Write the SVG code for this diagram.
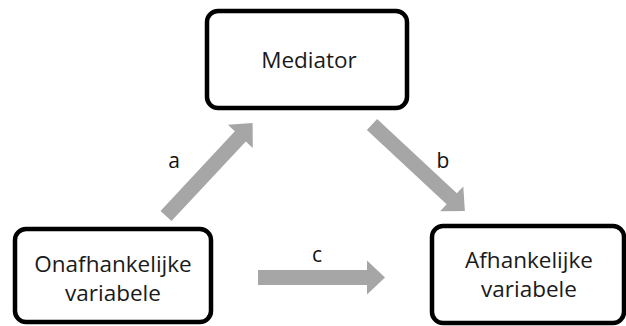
<svg xmlns="http://www.w3.org/2000/svg" width="626" height="326" viewBox="0 0 626 326">
  <defs>
    <style>
      .box { fill: #ffffff; stroke: #000000; stroke-width: 4.5; }
      .label { font-family: "Open Sans", "Noto Sans", "DejaVu Sans", sans-serif; font-size: 22.5px; fill: #1a1a1a; text-anchor: middle; }
      .path-label { font-family: "Open Sans", "Noto Sans", "DejaVu Sans", sans-serif; font-size: 21px; fill: #111111; text-anchor: middle; }
      .arrow { fill: #a6a6a6; }
    </style>
    <!-- block arrow, tail at origin, pointing along +x -->
    <path id="block-arrow" class="arrow" d="M0,-7.5 H109 V-17 L127,0 L109,17 V7.5 H0 Z"/>
  </defs>

  <rect width="626" height="326" fill="#ffffff"/>

  <g id="connectors">
    <g id="path-a">
      <use href="#block-arrow" transform="translate(166,216) rotate(-47)"/>
      <text class="path-label" x="174" y="168">a</text>
    </g>
    <g id="path-b">
      <use href="#block-arrow" transform="translate(372,124.5) rotate(43)"/>
      <text class="path-label" x="443" y="168">b</text>
    </g>
    <g id="path-c">
      <use href="#block-arrow" transform="translate(258,277.5)"/>
      <text class="path-label" x="317" y="262">c</text>
    </g>
  </g>

  <g id="mediator">
    <rect class="box" x="207" y="11" width="200" height="97" rx="11"/>
    <text class="label" x="309" y="68">Mediator</text>
  </g>

  <g id="independent">
    <rect class="box" x="15" y="229" width="196" height="93" rx="11"/>
    <text class="label" x="113" y="272">Onafhankelijke</text>
    <text class="label" x="113" y="301">variabele</text>
  </g>

  <g id="dependent">
    <rect class="box" x="432" y="226" width="192" height="97" rx="11"/>
    <text class="label" x="529" y="268">Afhankelijke</text>
    <text class="label" x="529" y="297">variabele</text>
  </g>
</svg>
